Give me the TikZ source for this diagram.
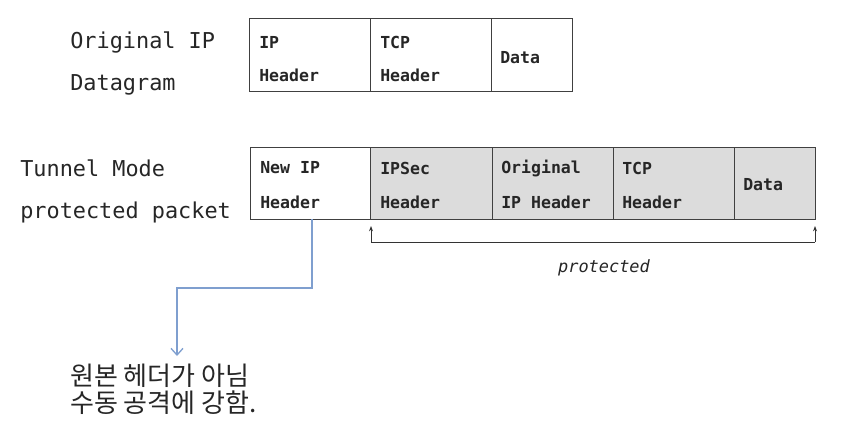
\documentclass[tikz,border=0pt]{standalone}
\usepackage{fontspec}
\setmonofont{DejaVu Sans Mono}
\newfontfamily\kr{Noto Sans CJK KR}
\usetikzlibrary{arrows.meta}
\definecolor{cellgray}{HTML}{DCDCDC}
\definecolor{edgegray}{HTML}{404040}
\definecolor{linkblue}{HTML}{7F9FCF}
\begin{document}
\begin{tikzpicture}[x=0.75pt,y=-0.75pt,
  cellw/.style={draw=edgegray,line width=0.8pt,fill=white,inner sep=0pt,anchor=north west},
  cellg/.style={cellw,fill=cellgray},
  celltext/.style={font=\ttfamily\bfseries\fontsize{12.4}{14}\selectfont,anchor=west,inner sep=0pt,text=black!85},
  lbl/.style={font=\ttfamily\fontsize{16.4}{19}\selectfont,anchor=west,inner sep=0pt,text=black!85},
  prot/.style={-{Stealth[length=4pt,width=3pt]},line width=0.6pt,draw=black!80},
  conn/.style={-{Straight Barb[length=5pt,width=9pt]},draw=linkblue,line width=1pt}]
\useasboundingbox (0,0) rectangle (866,442);
% top datagram
\node[cellw,minimum width=121*0.75pt,minimum height=73*0.75pt] (a1) at (249,18) {};
\node[cellw,minimum width=121*0.75pt,minimum height=73*0.75pt] (a2) at (370,18) {};
\node[cellw,minimum width=81*0.75pt,minimum height=73*0.75pt] (a3) at (491,18) {};
\node[celltext] (t1) at (259,42) {IP};
\node[celltext] (t2) at (259,75) {Header};
\node[celltext] (t3) at (380,42) {TCP};
\node[celltext] (t4) at (380,75) {Header};
\node[celltext] (t5) at (500,58) {Data};
\node[lbl] (l1) at (70,42) {Original IP};
\node[lbl] (l2) at (70,85) {Datagram};
% tunnel mode packet
\node[cellw,minimum width=120*0.75pt,minimum height=72*0.75pt] (b1) at (250,147) {};
\node[cellg,minimum width=122*0.75pt,minimum height=72*0.75pt] (b2) at (370,147) {};
\node[cellg,minimum width=121*0.75pt,minimum height=72*0.75pt] (b3) at (492,147) {};
\node[cellg,minimum width=121*0.75pt,minimum height=72*0.75pt] (b4) at (613,147) {};
\node[cellg,minimum width=81*0.75pt,minimum height=72*0.75pt] (b5) at (734,147) {};
\node[celltext] (s1) at (260,168) {New IP};
\node[celltext] (s2) at (260,202) {Header};
\node[celltext] (s3) at (380,168) {IPSec};
\node[celltext] (s4) at (380,202) {Header};
\node[celltext] (s5) at (501,168) {Original};
\node[celltext] (s6) at (501,202) {IP Header};
\node[celltext] (s7) at (622,168) {TCP};
\node[celltext] (s8) at (622,202) {Header};
\node[celltext] (s9) at (743,185) {Data};
\node[lbl] (l3) at (20,168) {Tunnel Mode};
\node[lbl] (l4) at (20,212) {protected packet};
% protected bracket
\coordinate (p1) at (371,242);
\coordinate (p2) at (815,242);
\coordinate (q1) at (371,226);
\coordinate (q2) at (815,226);
\draw[line width=0.6pt,draw=black!80] (p1) -- (p2);
\draw[prot] (p1) -- (q1);
\draw[prot] (p2) -- (q2);
\node[font=\ttfamily\itshape\fontsize{12.7}{14}\selectfont,text=black!85,inner sep=0pt] (pl) at (604,268) {protected};
% blue connector
\node[font=\kr\fontsize{19.5}{20}\selectfont,anchor=north west,inner sep=0pt,align=left,text=black!85] (note) at (70,364) {원본 헤더가 아님\\[0pt]수동 공격에 강함.};
\coordinate (c0) at (312,219);
\coordinate (c1) at (312,288);
\coordinate (c2) at (177,288);
\coordinate (c3) at (177,356);
\draw[conn] (c0) -- (c1) -- (c2) -- (c3);
\end{tikzpicture}
\end{document}
